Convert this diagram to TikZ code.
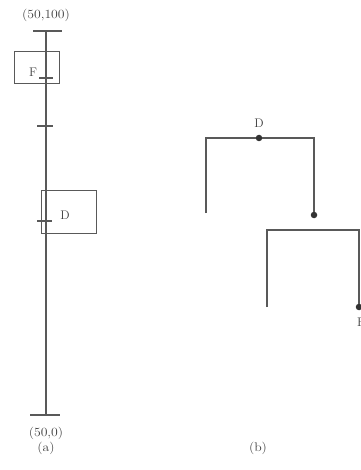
\documentclass[tikz,border=0pt]{standalone}
\begin{document}
\begin{tikzpicture}[x=1pt,y=-1pt,
  ln/.style={draw=black!65,line width=1.1pt},
  bx/.style={draw=black!65,line width=1pt},
  lbl/.style={text=black!75,inner sep=0pt,font=\fontsize{12.5}{14}\selectfont},
  dotn/.style={circle,fill=black!80,inner sep=0pt,minimum size=6.5pt}]
\useasboundingbox (0,0) rectangle (360,470);
% (a)
\coordinate (top) at (46,31);
\coordinate (bot) at (46,415);
\draw[ln] (top) -- (bot);
\draw[ln] (33,31) -- (62,31);
\draw[ln] (30,415) -- (60,415);
\draw[ln] (37,126) -- (53,126);
\node[lbl] (ltop) at (46,15) {\scalebox{1.1}[1]{(50,100)}};
\node[lbl] (lbot) at (46,433) {\scalebox{1.1}[1]{(50,0)}};
\node[lbl] (la) at (46,448) {\scalebox{1.1}[1]{(a)}};
\draw[bx] (14,52) rectangle (59,84);
\node[lbl] (F) at (33,72) {F};
\draw[ln] (39,78) -- (53,78);
\draw[bx] (41,190) rectangle (96,233);
\node[lbl] (D) at (65,215) {D};
\draw[ln] (37,221) -- (52,221);
% (b)
\node[dotn] (d1) at (259,138) {};
\node[dotn] (d2) at (314,215) {};
\node[dotn] (d3) at (359,307) {};
\draw[ln] (206,213) -- (206,138) -- (d1) -- (314,138) -- (d2);
\draw[ln] (267,307) -- (267,230) -- (359,230) -- (d3);
\node[lbl] (Db) at (259,123) {D};
\node[lbl] (Fb) at (361,322) {F};
\node[lbl] (lb) at (258,448) {\scalebox{1.1}[1]{(b)}};
\end{tikzpicture}
\end{document}
